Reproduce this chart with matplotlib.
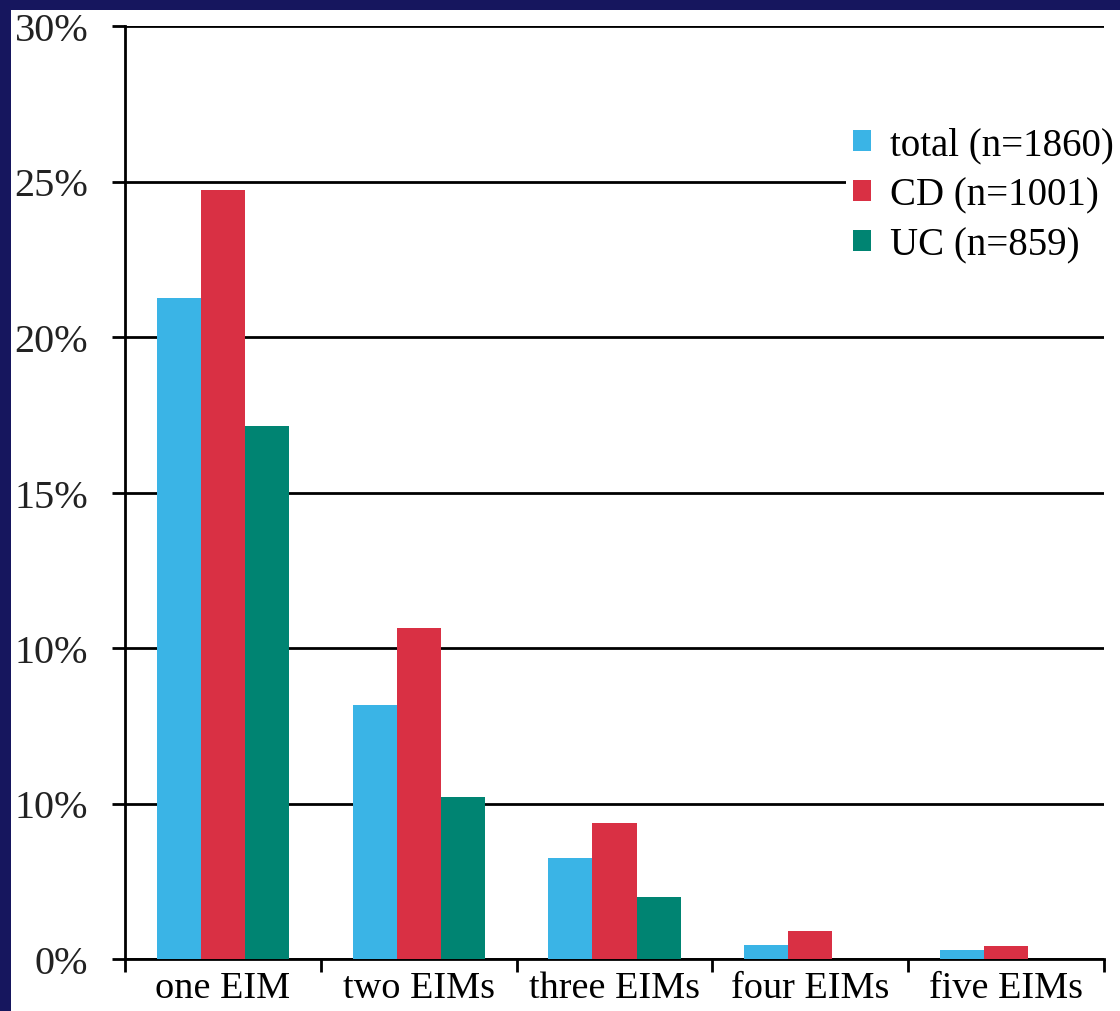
import numpy as np
import matplotlib.pyplot as plt
from matplotlib.patches import Rectangle

# share of patients with a given number of EIMs, in %
categories = ['one EIM', 'two EIMs', 'three EIMs', 'four EIMs', 'five EIMs']
total = [21.25, 8.17, 3.25, 0.45, 0.29]
cd = [24.73, 10.64, 4.37, 0.90, 0.42]
uc = [17.14, 5.21, 1.99, 0.0, 0.0]
series_names = ['total (n=1860)', 'CD (n=1001)', 'UC (n=859)']
ytick_vals = [0, 5, 10, 15, 20, 25, 30]
ytick_labels = ['0%', '10%', '10%', '15%', '20%', '25%', '30%']

colors = ['#3AB4E6', '#D93044', '#008472']
navy = '#16165E'

plt.rcParams['font.family'] = ['Liberation Serif', 'DejaVu Serif']

fig = plt.figure(figsize=(11.2, 10.12), dpi=100, facecolor=navy)
# white panel inside the navy frame
fig.patches.append(Rectangle((11 / 1120, 0), 1, 1 - 11 / 1012,
                             transform=fig.transFigure, facecolor='white',
                             edgecolor='none', zorder=-10))

ax = fig.add_axes([125 / 1120, 1 - 960 / 1012, (1104 - 125) / 1120, (960 - 27) / 1012])
ax.set_facecolor('white')

x = np.arange(len(categories))
w = 0.225
for i, vals in enumerate([total, cd, uc]):
    ax.bar(x + (i - 1) * w, vals, width=w, color=colors[i],
           label=series_names[i], zorder=3)

ax.set_xlim(-0.5, len(categories) - 0.5)
ax.set_ylim(0, 30)

ax.set_yticks(ytick_vals)
ax.set_yticklabels(ytick_labels)
ax.grid(axis='y', color='black', linewidth=2.0, zorder=1)
ax.set_axisbelow(True)

ax.set_xticks(x)
ax.set_xticklabels(categories)
ax.set_xticks(np.arange(len(categories) + 1) - 0.5, minor=True)
ax.tick_params(axis='x', which='major', length=0, pad=8, labelsize=27.5)
ax.tick_params(axis='x', which='minor', length=9, width=2.0, direction='out')
ax.tick_params(axis='y', length=9.5, width=2.0, pad=17, labelsize=29,
               colors='black', labelcolor='#222222')

for side in ['top', 'right']:
    ax.spines[side].set_visible(False)
for side in ['left', 'bottom']:
    ax.spines[side].set_linewidth(2.0)
ax.spines['left'].set_bounds(0, 30)

leg = ax.legend(loc='upper right', bbox_to_anchor=(1122 / 1120, 1 - 120 / 1012),
                bbox_transform=fig.transFigure, frameon=True, fancybox=False,
                fontsize=28, handlelength=0.45, handleheight=0.45,
                handletextpad=0.5, labelspacing=0.33, borderpad=0.2,
                borderaxespad=0)
leg.get_frame().set_edgecolor('none')
leg.get_frame().set_facecolor('white')
leg.get_frame().set_alpha(1)
leg.set_zorder(5)

fig.savefig('out.png', dpi=100, facecolor=navy)
